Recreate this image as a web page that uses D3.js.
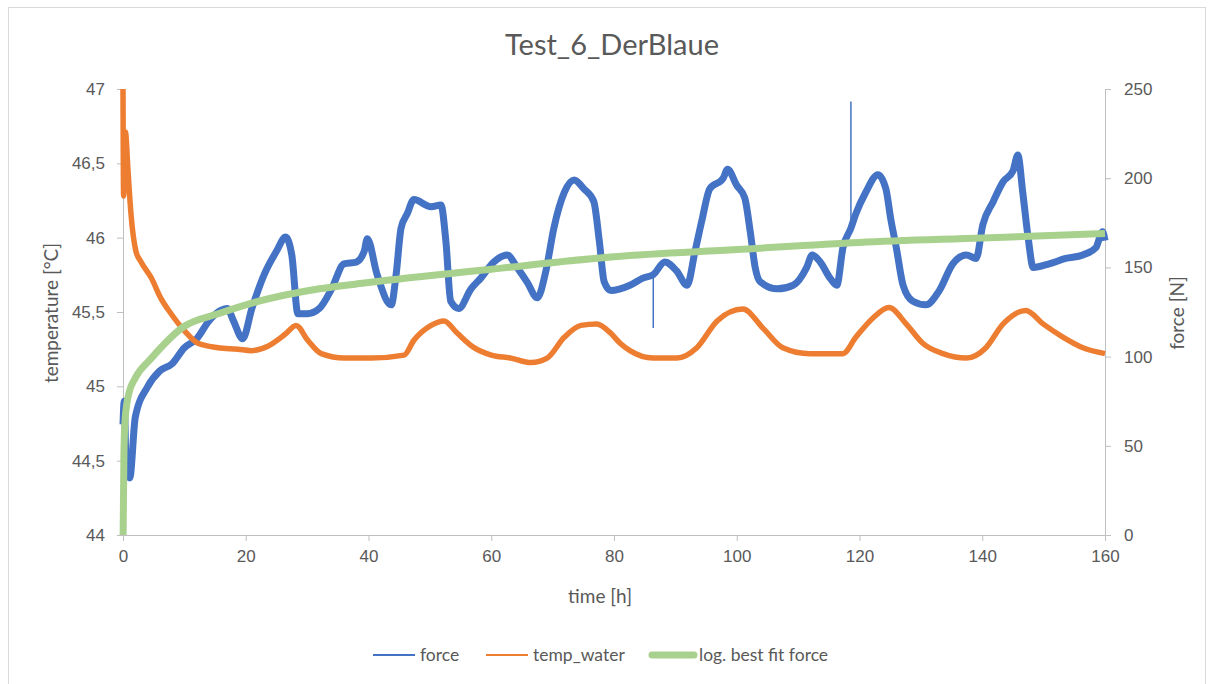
<!DOCTYPE html>
<html>
<head>
<meta charset="utf-8">
<script src="https://cdn.jsdelivr.net/npm/d3@7.9.0/dist/d3.min.js"></script>
<style>
  html, body { margin: 0; padding: 0; background: #fff; }
  svg { display: block; font-family: Lato, "Open Sans", sans-serif; }
</style>
</head>
<body>
<svg id="chart" width="1212" height="684"></svg>
<script>
// ---- data ----
const chartTitle = 'Test_6_DerBlaue';

const timeTicks = [0, 20, 40, 60, 80, 100, 120, 140, 160];
const tempTicks = [44, 44.5, 45, 45.5, 46, 46.5, 47];
const forceTicks = [0, 50, 100, 150, 200, 250];

// force [N] over time [h]
const forceT = [0, 0.2, 0.5, 1.1, 2, 4, 6, 8, 10, 12, 14, 16, 17, 18, 19.5, 21, 23, 25, 26.5, 27.5,
  28.5, 30, 32, 34, 36, 38, 39.3, 39.8, 41.4, 43.7, 44.5, 45.3, 46.3, 47.4, 50.2, 51.8, 52.6, 53.4, 54.7, 56.7,
  58.3, 60.4, 62.6, 64.2, 65.8, 67.5, 68.9, 70.2, 71.9, 73.5, 75.1, 76.7, 77.6, 78.4, 79.5, 81, 82.6, 84.7, 86.4,
  88.3, 90.2, 91.9, 93.2, 94.3, 95.6, 97.8, 98.5, 100, 101.3, 102.2, 103, 103.8, 106.6, 109.2, 111.4, 112.3, 113.6, 115.2,
  116.3, 117.3, 118.6, 119.4, 121, 123, 124.3, 125.1, 126, 127.1, 128.7, 130.8, 133, 135.2, 137.4, 139, 140.1, 141.8,
  143.4, 145, 145.8, 146.6, 147.5, 148.3, 150.9, 153.6, 156.4, 158.5, 159.6, 160];
const forceN = [62, 75, 40, 32, 66, 83, 92, 96, 105, 110, 120, 126, 127, 120, 110, 127, 146, 159, 167, 157,
  124, 124, 127, 138, 152, 153, 159, 166, 146, 129, 146, 172, 180, 188, 184, 185, 165, 131, 127, 138,
  144, 153, 157, 150, 142, 133, 148, 172, 192, 199, 194, 187, 165, 142, 137, 138, 140, 144, 146,
  153, 148, 140, 159, 176, 194, 200, 205, 196, 189, 170, 150, 142, 138, 140, 150, 157, 153, 144,
  140, 161, 172, 180, 192, 202, 194, 177, 161, 140, 131, 129, 137, 152, 157, 155, 174, 187,
  198, 204, 213, 192, 166, 150, 152, 155, 157, 161, 170, 165];

// single-sample outliers in the force signal
const spikeT = [86.4, 118.6];
const spikeFromN = [146, 172];
const spikeToN = [116, 243];

// temp_water [°C] over time [h]
const tempT = [0, 0.1, 0.4, 0.8, 1.3, 2.1, 2.9, 4.6, 6.2, 7.8, 10.1, 12.2, 15.5, 18.7, 20.9, 23.6, 26.4, 28.2, 30.1, 32.3,
  36.1, 40.4, 45.8, 47.4, 50.2, 52.3, 54.4, 57.2, 60, 63.2, 66.5, 69.1, 71.9, 74.6, 77.2, 79.4, 81, 82.6, 86.4, 90.2,
  93.5, 96.8, 101, 104.3, 107.5, 111.9, 117.3, 119.4, 122.2, 124.8, 127.6, 130.3, 133.6, 137.4, 140.6, 143.4, 147.1, 149.9, 153.2, 156.4, 160];
const tempC = [47.0, 46.28, 46.71, 46.46, 46.16, 45.91, 45.84, 45.73, 45.59, 45.49, 45.37, 45.29, 45.26, 45.25, 45.24, 45.27, 45.35, 45.41, 45.31, 45.22,
  45.19, 45.19, 45.21, 45.31, 45.41, 45.44, 45.36, 45.26, 45.21, 45.19, 45.16, 45.19, 45.33, 45.41, 45.42, 45.36, 45.29, 45.24, 45.19, 45.19,
  45.26, 45.44, 45.52, 45.39, 45.26, 45.22, 45.22, 45.33, 45.46, 45.53, 45.42, 45.29, 45.22, 45.19, 45.26, 45.42, 45.51, 45.42, 45.33, 45.26, 45.22];

// log. best fit force [N]
const fitT = [0.02, 0.15, 0.3, 0.6, 1, 2, 4.6, 10, 15.5, 21, 32, 40, 60, 80, 100, 120, 140, 160];
const fitN = [0, 45, 62, 73, 80, 88, 99, 117, 124, 130, 138, 141.5, 149, 156, 160, 164, 166.5, 169];

// ---- layout ----
const svg = d3.select('#chart');
const plot = { left: 123, right: 1105, top: 89, bottom: 535 };
const grey = '#595959';
const axisGrey = '#bfbfbf';

const x = d3.scaleLinear().domain([0, 160]).range([plot.left, plot.right]);
const yTemp = d3.scaleLinear().domain([44, 47]).range([plot.bottom, plot.top]);
const yForce = d3.scaleLinear().domain([0, 250]).range([plot.bottom, plot.top]);

const comma = d => String(d).replace('.', ',');

// chart frame
svg.append('rect')
  .attr('x', 8.5).attr('y', 7.5)
  .attr('width', 1197).attr('height', 690)
  .attr('fill', 'none').attr('stroke', '#d9d9d9');

// title
svg.append('text')
  .attr('x', 612).attr('y', 55)
  .attr('text-anchor', 'middle')
  .attr('font-size', 29).attr('fill', grey)
  .text(chartTitle);

// axes
function styleAxis(g) {
  g.select('.domain').attr('stroke', axisGrey);
  g.selectAll('.tick line').attr('stroke', axisGrey);
  g.selectAll('.tick text').attr('fill', grey).attr('font-size', 17);
}

svg.append('g')
  .attr('transform', `translate(0,${plot.bottom})`)
  .call(d3.axisBottom(x).tickValues(timeTicks).tickSize(6).tickSizeOuter(0).tickPadding(9))
  .call(styleAxis);

svg.append('g')
  .attr('transform', `translate(${plot.left},0)`)
  .call(d3.axisLeft(yTemp).tickValues(tempTicks).tickFormat(comma).tickSize(6).tickSizeOuter(0).tickPadding(12))
  .call(styleAxis);

svg.append('g')
  .attr('transform', `translate(${plot.right},0)`)
  .call(d3.axisRight(yForce).tickValues(forceTicks).tickSize(6).tickSizeOuter(0).tickPadding(13))
  .call(styleAxis);

// axis titles
svg.append('text')
  .attr('x', 600).attr('y', 603)
  .attr('text-anchor', 'middle').attr('font-size', 19).attr('fill', grey)
  .text('time [h]');

svg.append('text')
  .attr('transform', 'translate(58,313) rotate(-90)')
  .attr('text-anchor', 'middle').attr('font-size', 19).attr('fill', grey)
  .text('temperature [°C]');

svg.append('text')
  .attr('transform', 'translate(1184,313) rotate(-90)')
  .attr('text-anchor', 'middle').attr('font-size', 19).attr('fill', grey)
  .text('force [N]');

// series
const forceData = forceT.map((t, i) => [t, forceN[i]]);
const tempData = tempT.map((t, i) => [t, tempC[i]]);
const fitData = fitT.map((t, i) => [t, fitN[i]]);

svg.append('path')
  .datum(forceData)
  .attr('fill', 'none')
  .attr('stroke', '#4472C4')
  .attr('stroke-width', 7)
  .attr('stroke-linejoin', 'round')
  .attr('d', d3.line().curve(d3.curveMonotoneX).x(d => x(d[0])).y(d => yForce(d[1])));

svg.selectAll('line.spike')
  .data(spikeT)
  .join('line')
  .attr('class', 'spike')
  .attr('x1', d => x(d)).attr('x2', d => x(d))
  .attr('y1', (d, i) => yForce(spikeFromN[i]))
  .attr('y2', (d, i) => yForce(spikeToN[i]))
  .attr('stroke', '#4472C4')
  .attr('stroke-width', 1.5);

svg.append('path')
  .datum(tempData)
  .attr('fill', 'none')
  .attr('stroke', '#ED7D31')
  .attr('stroke-width', 5.5)
  .attr('stroke-linejoin', 'round')
  .attr('d', d3.line().curve(d3.curveMonotoneX).x(d => x(d[0])).y(d => yTemp(d[1])));

svg.append('path')
  .datum(fitData)
  .attr('fill', 'none')
  .attr('stroke', '#A9D18E')
  .attr('stroke-width', 7)
  .attr('d', d3.line().curve(d3.curveMonotoneX).x(d => x(d[0])).y(d => yForce(d[1])));

// legend
const legendItems = [
  { label: 'force', color: '#4472C4', width: 2, x: 373 },
  { label: 'temp_water', color: '#ED7D31', width: 2, x: 486 },
  { label: 'log. best fit force', color: '#A9D18E', width: 7, x: 652 }
];
const legend = svg.append('g').attr('transform', 'translate(0,655)');
legendItems.forEach(d => {
  legend.append('line')
    .attr('x1', d.x).attr('x2', d.x + 42)
    .attr('stroke', d.color).attr('stroke-width', d.width)
    .attr('stroke-linecap', d.width > 3 ? 'round' : 'butt');
  legend.append('text')
    .attr('x', d.x + 47).attr('y', 6)
    .attr('font-size', 17.5).attr('fill', grey)
    .text(d.label);
});
</script>
</body>
</html>
